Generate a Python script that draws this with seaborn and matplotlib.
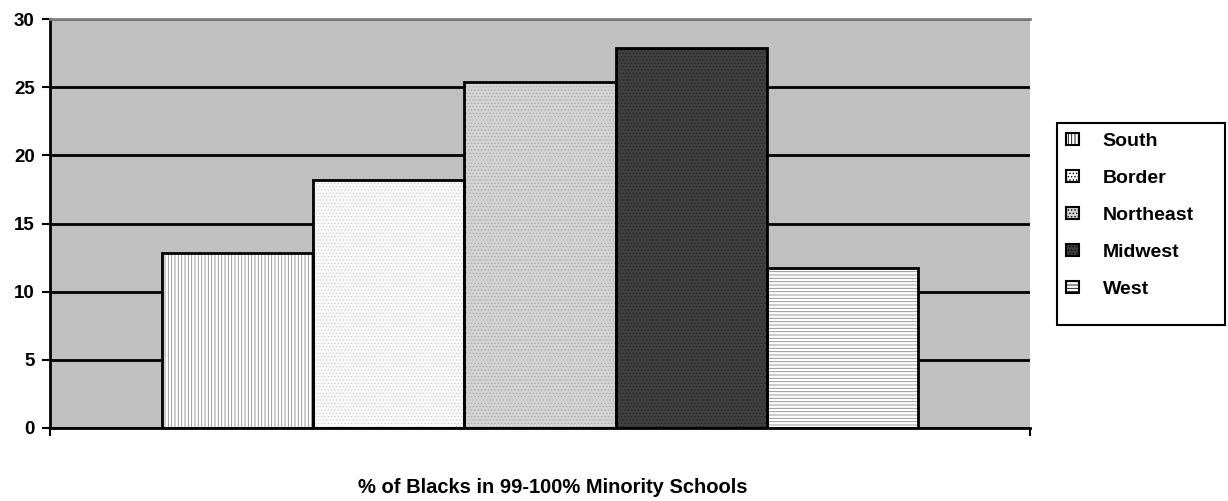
import matplotlib
matplotlib.use("Agg")
import matplotlib.pyplot as plt
import seaborn as sns
import pandas as pd
from matplotlib.patches import Rectangle

# data
regions = ['South', 'Border', 'Northeast', 'Midwest', 'West']
values = [12.8, 18.2, 25.4, 27.9, 11.7]
category = ['% of Blacks in 99-100% Minority Schools'] * 5

face = ['#ffffff', '#fbfbfb', '#d4d4d4', '#414141', '#ffffff']
hatch_col = ['#8a8a8a', '#d0d0d0', '#a8a8a8', '#222222', '#8a8a8a']
hatches = ['|||||', '.....', '.....', '.....', '-----']

sns.set_style('white')
plt.rcParams['font.family'] = ['Liberation Sans', 'DejaVu Sans']
plt.rcParams['font.weight'] = 'bold'
plt.rcParams['hatch.linewidth'] = 0.6
for k in ['text.color', 'axes.labelcolor', 'xtick.color', 'ytick.color']:
    plt.rcParams[k] = 'black'

df = pd.DataFrame({'cat': category, 'region': regions, 'val': values})

fig = plt.figure(figsize=(12.28, 5.01), dpi=100)
ax = fig.add_axes([50/1228, 73/501, 980/1228, 409/501])
ax.set_facecolor('#c0c0c0')

sns.barplot(data=df, x='cat', y='val', hue='region', hue_order=regions,
            palette=face, width=0.772, dodge=True, legend=False, ax=ax,
            linewidth=0)

# hatch each bar, then a black outline on top
for cont, h, hc in zip(ax.containers, hatches, hatch_col):
    for p in cont:
        p.set_hatch(h)
        p.set_edgecolor(hc)
        p.set_linewidth(0)
        ax.add_patch(Rectangle(p.get_xy(), p.get_width(), p.get_height(),
                               fill=False, edgecolor='black', lw=2, zorder=3))

ax.set_ylim(0, 30)
ax.set_xlim(-0.5, 0.5)
ax.set_yticks(range(0, 31, 5))
ax.set_xticks([-0.5, 0.5])
ax.set_xticklabels(['', ''])
ax.tick_params(axis='both', direction='out', length=6, width=1.5,
               labelsize=13.5, color='black', left=True, bottom=True, pad=5)
for lab in ax.get_yticklabels():
    lab.set_fontweight('bold')

ax.yaxis.grid(True, color='black', lw=2)
ax.set_axisbelow(True)
ax.spines['right'].set_visible(False)
ax.spines['top'].set_color('#808080')
ax.spines['top'].set_linewidth(2)
ax.spines['left'].set_color('black')
ax.spines['left'].set_linewidth(2)
ax.spines['bottom'].set_color('black')
ax.spines['bottom'].set_linewidth(2)

ax.set_ylabel('')
ax.set_xlabel('% of Blacks in 99-100% Minority Schools', fontsize=14.5,
              fontweight='bold')
ax.xaxis.set_label_coords(503/980, -50/409)

# legend: handles with black outline, box drawn separately
handles = []
for fc, h, hc in zip(face, hatches, hatch_col):
    handles.append(Rectangle((0, 0), 1, 1, facecolor=fc, hatch=h,
                             edgecolor='black', lw=1.5))
leg = fig.legend(handles=handles, labels=regions, loc='upper left',
                 bbox_to_anchor=(1060/1228, 374/501), frameon=False,
                 fontsize=14, handlelength=0.7, handleheight=0.6,
                 labelspacing=1.03, borderpad=0.3, handletextpad=1.2,
                 borderaxespad=0)
for t in leg.get_texts():
    t.set_fontweight('bold')
fig.patches.append(Rectangle((1057/1228, 176/501), 168/1228, 202/501,
                             transform=fig.transFigure, fill=False,
                             edgecolor='black', lw=1.5))

fig.savefig('out.png', dpi=100)
